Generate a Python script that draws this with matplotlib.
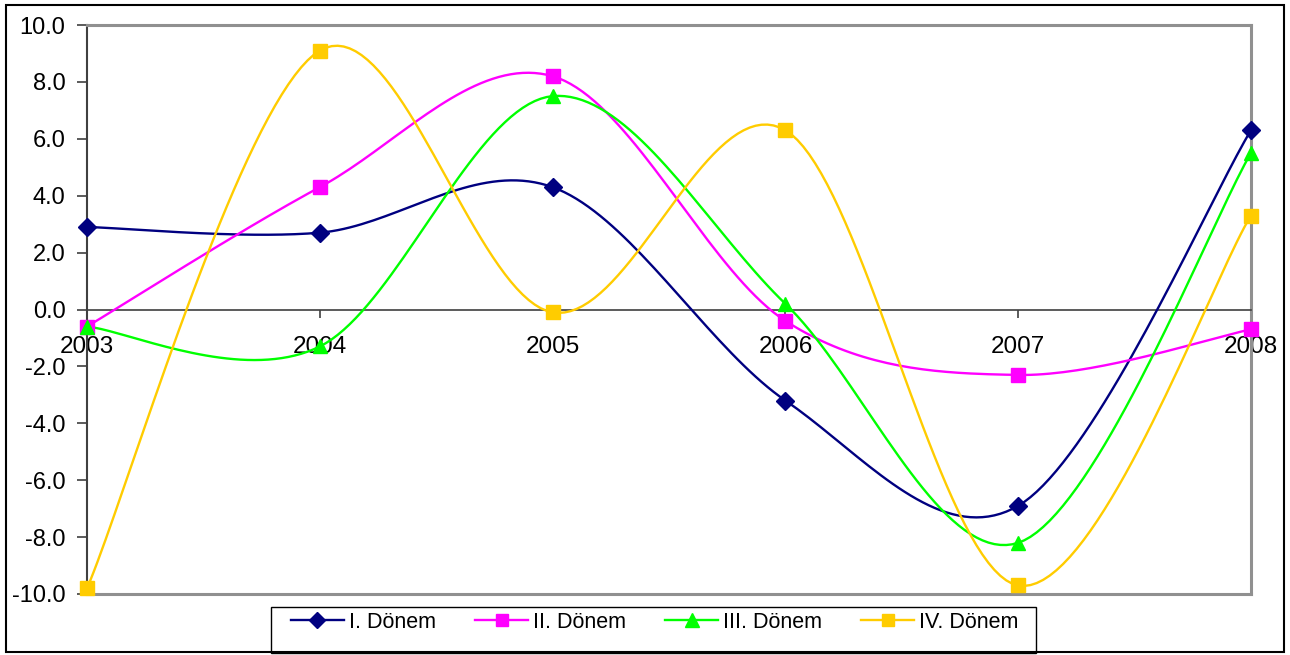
import numpy as np
import matplotlib
matplotlib.use("Agg")
import matplotlib.pyplot as plt
from matplotlib.patches import Rectangle
from matplotlib.lines import Line2D

years = ["2003", "2004", "2005", "2006", "2007", "2008"]
donem1 = [2.9, 2.7, 4.3, -3.2, -6.9, 6.3]
donem2 = [-0.6, 4.3, 8.2, -0.4, -2.3, -0.7]
donem3 = [-0.6, -1.3, 7.5, 0.2, -8.2, 5.5]
donem4 = [-9.8, 9.1, -0.1, 6.3, -9.7, 3.3]
labels = ["I. Dönem", "II. Dönem", "III. Dönem", "IV. Dönem"]
colors = ["#000080", "#FF00FF", "#00FF00", "#FFCC00"]
markers = ["D", "s", "^", "s"]
msizes = [9, 9.5, 10.5, 10]

plt.rcParams['font.family'] = ['Liberation Sans', 'DejaVu Sans']

W, H = 1290, 655
fig = plt.figure(figsize=(W / 100, H / 100), dpi=100)
ax = fig.add_axes([87 / W, 1 - 594 / H, (1251 - 87) / W, (594 - 25) / H])


def smooth(xs, ys, n=40):
    P = np.column_stack([xs, ys]).astype(float)
    m = len(P)
    out = [P[0]]
    for i in range(m - 1):
        p0 = P[i - 1] if i > 0 else P[i]
        p1 = P[i]
        p2 = P[i + 1]
        p3 = P[i + 2] if i + 2 < m else P[i + 1]
        b1 = p1 + (p2 - p0) / 6.0
        b2 = p2 - (p3 - p1) / 6.0
        t = np.linspace(0, 1, n)[1:, None]
        seg = ((1 - t) ** 3) * p1 + 3 * ((1 - t) ** 2) * t * b1 + 3 * (1 - t) * t ** 2 * b2 + t ** 3 * p2
        out.extend(seg)
    out = np.array(out)
    return out[:, 0], out[:, 1]


x = np.arange(len(years))
series = [donem1, donem2, donem3, donem4]
handles = []
for vals, lab, c, mk, ms in zip(series, labels, colors, markers, msizes):
    sx, sy = smooth(x, vals)
    ax.plot(sx, sy, color=c, lw=1.7, clip_on=False, zorder=3)
    ax.plot(x, vals, linestyle='none', marker=mk, ms=ms, color=c, mec=c, clip_on=False, zorder=4)
    handles.append(Line2D([], [], color=c, lw=1.7, marker=mk, ms=ms * 0.9, mec=c))

ax.spines['bottom'].set_position(('data', 0))
ax.spines['bottom'].set_color('#404040')
ax.spines['bottom'].set_linewidth(1.2)
ax.spines['left'].set_color('#404040')
ax.spines['left'].set_linewidth(1.5)
for s in ['top', 'right']:
    ax.spines[s].set_color('#909090')
    ax.spines[s].set_linewidth(2.2)

ax.set_xlim(0, len(years) - 1)
ax.set_ylim(-10, 10)
yt = np.arange(-10, 10.1, 2)
ax.set_yticks(yt)
ax.set_yticklabels([f"{v:.1f}" for v in yt])
ax.set_xticks(x)
ax.set_xticklabels(years)
ax.axhline(-10, color='#909090', lw=2.2, clip_on=False, zorder=2)
ax.tick_params(axis='y', direction='out', length=7, width=1.2, color='#404040', pad=8.5, labelsize=17)
ax.tick_params(axis='x', direction='out', length=6, width=1.2, color='#404040', pad=13, labelsize=17.5)

# legend box
fig.patches.append(Rectangle((271 / W, 1 - 653 / H), (1036 - 271) / W, (653 - 607) / H,
                             transform=fig.transFigure, fill=False, ec='black', lw=1.0))
fig.legend(handles=handles, labels=labels, loc='center left', ncol=4, frameon=False,
           bbox_to_anchor=(291 / W, 1 - 622 / H), fontsize=15.5, handlelength=2.46,
           handletextpad=0.23, columnspacing=1.82, borderpad=0, borderaxespad=0)

# outer border
fig.patches.append(Rectangle((6 / W, 1 - 652 / H), (1284 - 6) / W, (652 - 5) / H,
                             transform=fig.transFigure, fill=False, ec='black', lw=1.5))

fig.savefig("out.png", dpi=100)
